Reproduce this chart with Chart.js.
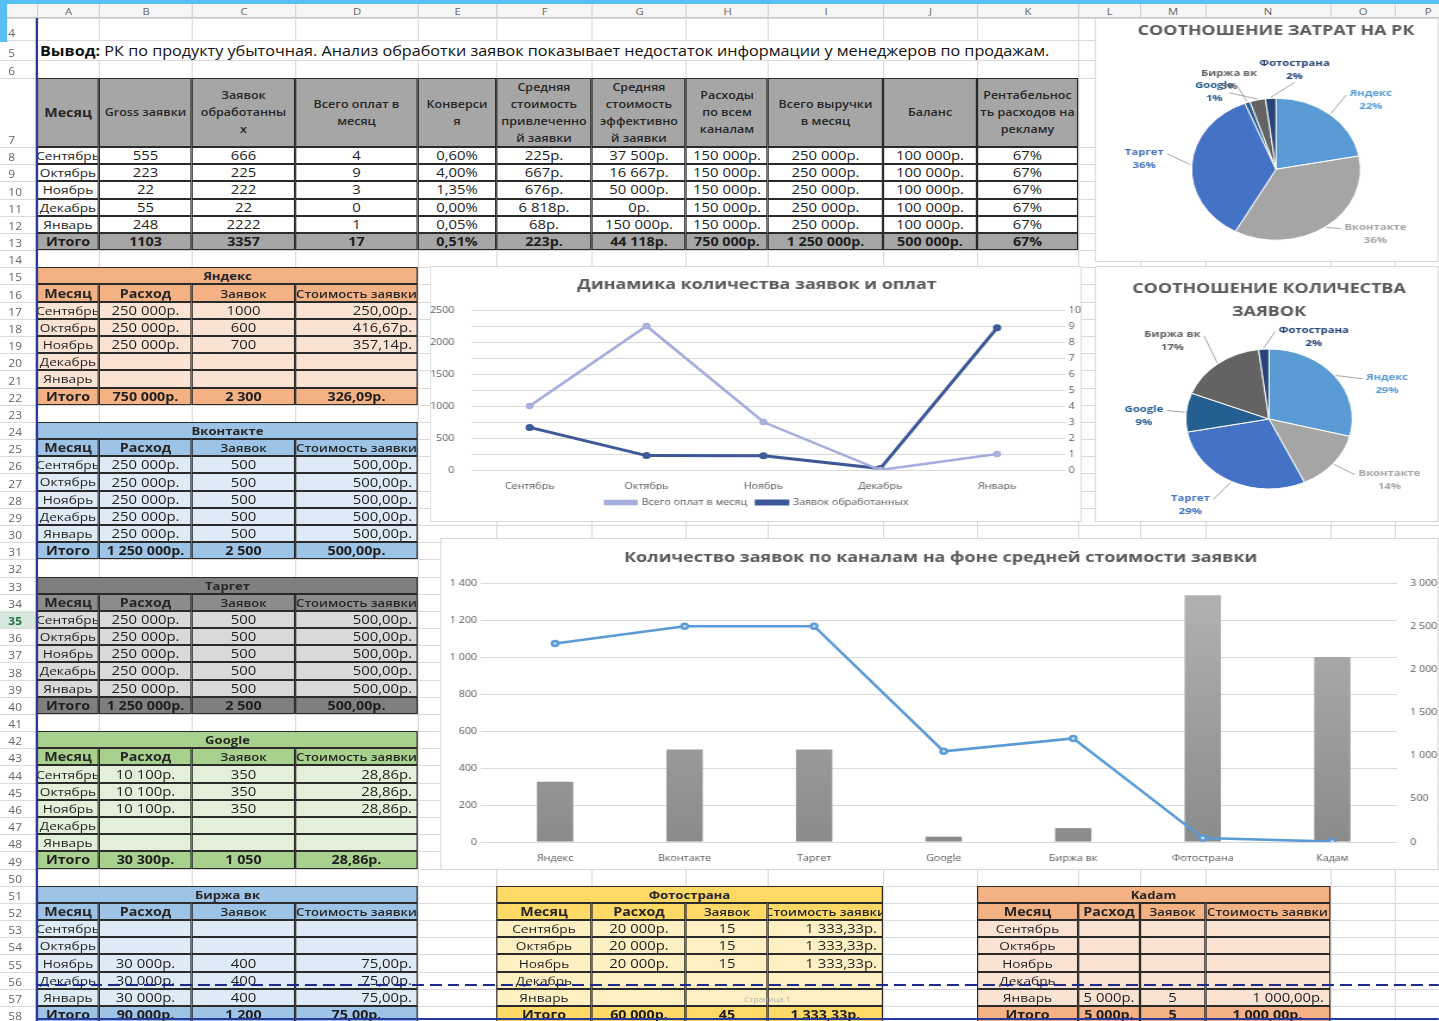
<!DOCTYPE html>
<html lang="ru">
<head>
<meta charset="utf-8">
<title>Анализ рекламной кампании</title>
<script src="https://cdn.jsdelivr.net/npm/chart.js@4.4.1/dist/chart.umd.min.js"></script>
<style>
  html, body { margin: 0; padding: 0; background: #fff; overflow: hidden; }
  body { width: 1439px; height: 1021px; position: relative; font-family: "Open Sans", sans-serif; }
  #sheet { position: absolute; left: 0; top: 0; height: 1021px; transform-origin: 0 0; }
  .c { position: absolute; box-sizing: border-box; display: flex; align-items: center; justify-content: center;
       overflow: hidden; white-space: nowrap; color: #1e1e1e; }
  .chartbox { position: absolute; background: #fff; border: 1px solid #d9d9d9; box-sizing: border-box; }
  .chartbox canvas { position: absolute; left: 0; top: 0; }
</style>
</head>
<body>
<div id="sheet"></div>
<script>
// ---- data ----
const months = ['Сентябрь', 'Октябрь', 'Ноябрь', 'Декабрь', 'Январь'];
const grossLeads = ['555', '223', '22', '55', '248'];
const processedLeads = [666, 225, 222, 22, 2222];
const paymentsPerMonth = [4, 9, 3, 0, 1];
const conversionRate = ['0,60%', '4,00%', '1,35%', '0,00%', '0,05%'];
const avgLeadCost = ['225р.', '667р.', '676р.', '6 818р.', '68р.'];
const avgPaidLeadCost = ['37 500р.', '16 667р.', '50 000р.', '0р.', '150 000р.'];
const spendAllChannels = ['150 000р.', '150 000р.', '150 000р.', '150 000р.', '150 000р.'];
const revenuePerMonth = ['250 000р.', '250 000р.', '250 000р.', '250 000р.', '250 000р.'];
const balancePerMonth = ['100 000р.', '100 000р.', '100 000р.', '100 000р.', '100 000р.'];
const adReturn = ['67%', '67%', '67%', '67%', '67%'];
const summaryTotals = ['Итого', '1103', '3357', '17', '0,51%', '223р.', '44 118р.', '750 000р.', '1 250 000р.', '500 000р.', '67%'];

const yandexSpend = ['250 000р.', '250 000р.', '250 000р.', '', ''];
const yandexLeads = ['1000', '600', '700', '', ''];
const yandexCost = ['250,00р.', '416,67р.', '357,14р.', '', ''];
const yandexTotal = ['750 000р.', '2 300', '326,09р.'];
const vkSpend = ['250 000р.', '250 000р.', '250 000р.', '250 000р.', '250 000р.'];
const vkLeads = ['500', '500', '500', '500', '500'];
const vkCost = ['500,00р.', '500,00р.', '500,00р.', '500,00р.', '500,00р.'];
const vkTotal = ['1 250 000р.', '2 500', '500,00р.'];
const targetSpend = ['250 000р.', '250 000р.', '250 000р.', '250 000р.', '250 000р.'];
const targetLeads = ['500', '500', '500', '500', '500'];
const targetCost = ['500,00р.', '500,00р.', '500,00р.', '500,00р.', '500,00р.'];
const targetTotal = ['1 250 000р.', '2 500', '500,00р.'];
const googleSpend = ['10 100р.', '10 100р.', '10 100р.', '', ''];
const googleLeads = ['350', '350', '350', '', ''];
const googleCost = ['28,86р.', '28,86р.', '28,86р.', '', ''];
const googleTotal = ['30 300р.', '1 050', '28,86р.'];
const vkExSpend = ['', '', '30 000р.', '30 000р.', '30 000р.'];
const vkExLeads = ['', '', '400', '400', '400'];
const vkExCost = ['', '', '75,00р.', '75,00р.', '75,00р.'];
const vkExTotal = ['90 000р.', '1 200', '75,00р.'];
const fotoSpend = ['20 000р.', '20 000р.', '20 000р.', '', ''];
const fotoLeads = ['15', '15', '15', '', ''];
const fotoCost = ['1 333,33р.', '1 333,33р.', '1 333,33р.', '', ''];
const fotoTotal = ['60 000р.', '45', '1 333,33р.'];
const kadamSpend = ['', '', '', '', '5 000р.'];
const kadamLeads = ['', '', '', '', '5'];
const kadamCost = ['', '', '', '', '1 000,00р.'];
const kadamTotal = ['5 000р.', '5', '1 000,00р.'];

const channels = ['Яндекс', 'Вконтакте', 'Таргет', 'Google', 'Биржа вк', 'Фотострана', 'Кадам'];
const channelLeadCost = [326.09, 500, 500, 28.86, 75, 1333.33, 1000];
const channelLeads = [2300, 2500, 2500, 1050, 1200, 45, 5];
const pieChannels = ['Яндекс', 'Вконтакте', 'Таргет', 'Google', 'Биржа вк', 'Фотострана'];
const spendShare = [22, 36, 36, 1, 3, 2];
const leadsShare = [29, 14, 29, 9, 17, 2];

// ---- sheet geometry (screen px; the sheet is drawn narrower and stretched) ----
const S = 1.19;
const F = '"Open Sans", sans-serif';
const sheet = document.getElementById('sheet');
sheet.style.width = (1439 / S) + 'px';
sheet.style.transform = 'scaleX(' + S + ')';

const colX = [0, 37, 99, 192, 295, 418, 496, 592, 686, 768, 883, 977, 1078, 1140, 1205, 1330, 1395, 1460];
const colNames = ['', 'A', 'B', 'C', 'D', 'E', 'F', 'G', 'H', 'I', 'J', 'K', 'L', 'M', 'N', 'O', 'P'];
function rowTop(r) {
  if (r <= 4) return 18;
  if (r === 5) return 40;
  if (r === 6) return 60;
  if (r === 7) return 78;
  return 147 + (r - 8) * 17.18;
}

function box(x1, y1, x2, y2, css, html) {
  const d = document.createElement('div');
  d.className = 'c';
  d.style.left = (x1 / S) + 'px';
  d.style.top = y1 + 'px';
  d.style.width = ((x2 - x1) / S) + 'px';
  d.style.height = (y2 - y1) + 'px';
  Object.assign(d.style, css || {});
  if (html !== undefined) d.innerHTML = html;
  sheet.appendChild(d);
  return d;
}

const B = '1px solid #2a2a2a';
function cell(c1, c2, r, html, css) {
  return box(colX[c1], rowTop(r), colX[c2 + 1], rowTop(r + 1), Object.assign({ border: B, fontSize: '12.5px' }, css), html);
}

// grid
for (let r = 4; r <= 59; r++) box(0, rowTop(r), 1460, rowTop(r) + 1, { background: '#dadada' });
for (let i = 1; i < colX.length; i++) box(colX[i], 4, colX[i] + 1, 1021, { background: '#dadada' });
box(0, 4, 1460, 18, { background: '#f6f6f6', borderBottom: '1px solid #c6c6c6' });
for (let i = 1; i < colNames.length; i++) {
  box(colX[i], 4, colX[i + 1], 18, { fontSize: '9.5px', color: '#666', borderLeft: '1px solid #d0d0d0' }, colNames[i]);
}
for (let r = 4; r <= 58; r++) {
  const sel = r === 35;
  box(0, rowTop(r), 37, rowTop(r + 1), {
    fontSize: '10px', color: sel ? '#217346' : '#666', alignItems: 'flex-end', justifyContent: 'flex-start',
    paddingLeft: '7px', background: sel ? '#d9e8de' : 'transparent', fontWeight: sel ? '700' : '400'
  }, String(r));
}
box(0, 0, 1460, 4, { background: '#56c0f4' });
box(0, 0, 7, 42, { background: '#56c0f4' });

// conclusion line
box(38, 41, 1077, 60, { background: '#fff' });
box(40, 40, 1077, 60, { justifyContent: 'flex-start', fontSize: '13.6px', color: '#111' },
  '<b>Вывод:</b>&nbsp;РК по продукту убыточная. Анализ обработки заявок показывает недостаток информации у менеджеров по продажам.');

// summary table
const summaryHead = ['Месяц', 'Gross заявки', 'Заявок<br>обработанны<br>х', 'Всего оплат в<br>месяц', 'Конверси<br>я',
  'Средняя<br>стоимость<br>привлеченно<br>й заявки', 'Средняя<br>стоимость<br>эффективно<br>й заявки',
  'Расходы<br>по всем<br>каналам', 'Всего выручки<br>в месяц', 'Баланс', 'Рентабельнос<br>ть расходов на<br>рекламу'];
summaryHead.forEach((h, i) => cell(i + 1, i + 1, 7, h, {
  background: '#a6a6a6', fontSize: i === 0 ? '12px' : '10.5px', fontWeight: i === 0 ? '700' : '600',
  lineHeight: '17px', textAlign: 'center', color: '#262626'
}));
months.forEach((m, k) => {
  const vals = [m, grossLeads[k], processedLeads[k], paymentsPerMonth[k], conversionRate[k], avgLeadCost[k],
    avgPaidLeadCost[k], spendAllChannels[k], revenuePerMonth[k], balancePerMonth[k], adReturn[k]];
  vals.forEach((v, i) => cell(i + 1, i + 1, 8 + k, v, { background: '#fff', fontSize: i === 0 ? '11.5px' : '12.5px' }));
});
summaryTotals.forEach((v, i) => cell(i + 1, i + 1, 13, v, { background: '#a6a6a6', fontWeight: '700', fontSize: '12px' }));

// channel tables
function channelTable(c1, r0, title, pal, spend, leads, cost, total) {
  cell(c1, c1 + 3, r0, title, { background: pal[0], fontWeight: '700', fontSize: '11px', color: '#262626' });
  ['Месяц', 'Расход', 'Заявок', 'Стоимость заявки'].forEach((h, i) =>
    cell(c1 + i, c1 + i, r0 + 1, h, { background: pal[1], fontWeight: i < 2 ? '700' : '600', fontSize: i < 2 ? '12px' : '11px', color: '#262626' }));
  months.forEach((m, k) => {
    const r = r0 + 2 + k;
    cell(c1, c1, r, m, { background: pal[2], fontSize: '11.5px' });
    cell(c1 + 1, c1 + 1, r, spend[k], { background: pal[2] });
    cell(c1 + 2, c1 + 2, r, leads[k], { background: pal[2] });
    cell(c1 + 3, c1 + 3, r, cost[k], { background: pal[2], justifyContent: 'flex-end', paddingRight: '4px' });
  });
  const rt = r0 + 7;
  cell(c1, c1, rt, 'Итого', { background: pal[3], fontWeight: '700', fontSize: '12px' });
  total.forEach((v, i) => cell(c1 + 1 + i, c1 + 1 + i, rt, v, { background: pal[3], fontWeight: '700', fontSize: '12px' }));
}
const orangePal = ['#f4b183', '#f4b183', '#fbe3d3', '#f4b183'];
const bluePal = ['#9dc3e6', '#9dc3e6', '#deebf7', '#9dc3e6'];
const grayPal = ['#7f7f7f', '#8c8c8c', '#d9d9d9', '#7f7f7f'];
const greenPal = ['#a9d18e', '#a9d18e', '#e2f0d9', '#a9d18e'];
const yellowPal = ['#ffd966', '#ffd966', '#fff0c4', '#ffd966'];
channelTable(1, 15, 'Яндекс', orangePal, yandexSpend, yandexLeads, yandexCost, yandexTotal);
channelTable(1, 24, 'Вконтакте', bluePal, vkSpend, vkLeads, vkCost, vkTotal);
channelTable(1, 33, 'Таргет', grayPal, targetSpend, targetLeads, targetCost, targetTotal);
channelTable(1, 42, 'Google', greenPal, googleSpend, googleLeads, googleCost, googleTotal);
channelTable(1, 51, 'Биржа вк', bluePal, vkExSpend, vkExLeads, vkExCost, vkExTotal);
channelTable(6, 51, 'Фотострана', yellowPal, fotoSpend, fotoLeads, fotoCost, fotoTotal);
channelTable(11, 51, 'Kadam', orangePal, kadamSpend, kadamLeads, kadamCost, kadamTotal);
box(735, 994, 800, 1004, { fontSize: '7px', color: '#b0b0b0' }, 'Страница 1');

// page-break marks
box(36, 18, 38, 1021, { background: '#2b3a9a' });
box(37, 984, 1439, 986, { background: 'repeating-linear-gradient(to right, #1d2c8c 0 10px, transparent 10px 15px)' });
box(37, 1018, 1439, 1020, { background: '#2b3a9a' });

// ---- charts ----
Chart.defaults.font.family = F;
Chart.defaults.color = '#595959';

function chartBox(x1, y1, x2, y2) {
  const w = Math.round((x2 - x1) / S), h = Math.round(y2 - y1);
  const d = document.createElement('div');
  d.className = 'chartbox';
  d.style.left = (x1 / S) + 'px';
  d.style.top = y1 + 'px';
  d.style.width = w + 'px';
  d.style.height = h + 'px';
  const cv = document.createElement('canvas');
  cv.width = w; cv.height = h;
  cv.style.width = w + 'px'; cv.style.height = h + 'px';
  d.appendChild(cv);
  sheet.appendChild(d);
  return cv;
}

const tickFont = { family: F, size: 9 };
const plain = v => String(v);
const spaced = v => String(v).replace(/\B(?=(\d{3})+(?!\d))/g, ' ');

// line chart: leads processed vs payments
new Chart(chartBox(430, 266, 1082, 522), {
  type: 'line',
  data: {
    labels: months,
    datasets: [
      { label: 'Всего оплат в месяц', data: paymentsPerMonth, yAxisID: 'y1', borderColor: '#a4addb', backgroundColor: '#a4addb',
        borderWidth: 2.5, pointRadius: 2, pointBackgroundColor: '#c7cdea', pointBorderColor: '#a4addb' },
      { label: 'Заявок обработанных', data: processedLeads, yAxisID: 'y', borderColor: '#3c5897', backgroundColor: '#3c5897',
        borderWidth: 3, pointRadius: 2, pointBackgroundColor: '#6b80b5', pointBorderColor: '#3c5897' }
    ]
  },
  options: {
    responsive: false, animation: false,
    layout: { padding: { bottom: 6 } },
    plugins: {
      title: { display: true, text: 'Динамика количества заявок и оплат', color: '#595959',
        font: { family: F, size: 15, weight: 'bold' }, padding: { top: 9, bottom: 16 } },
      legend: { position: 'bottom', labels: { color: '#595959', font: tickFont, boxWidth: 26, boxHeight: 3, padding: 8 } },
      tooltip: { enabled: false }
    },
    scales: {
      x: { offset: true, grid: { display: false }, border: { display: false }, ticks: { font: tickFont, color: '#595959' },
        afterFit: s => { s.height = 20; } },
      y: { position: 'left', min: 0, max: 2500, grid: { display: false }, border: { display: false },
        ticks: { stepSize: 500, font: tickFont, color: '#595959', callback: plain, padding: 6 }, afterFit: s => { s.width = 34; } },
      y1: { position: 'right', min: 0, max: 10, grid: { color: '#d9d9d9' }, border: { display: false },
        ticks: { stepSize: 1, font: tickFont, color: '#595959', callback: plain }, afterFit: s => { s.width = 23; } }
    }
  }
});

// combo chart: cost per lead (bars) and leads by channel (line)
new Chart(chartBox(440, 538, 1439, 870), {
  type: 'bar',
  data: {
    labels: channels,
    datasets: [
      { type: 'line', label: 'Заявок', data: channelLeads, yAxisID: 'y1', borderColor: '#5b9bd5', borderWidth: 2.5,
        pointRadius: 2.5, pointBackgroundColor: '#d8e7f5', pointBorderColor: '#5b9bd5', order: 0 },
      { type: 'bar', label: 'Стоимость заявки', data: channelLeadCost, yAxisID: 'y', order: 1,
        barPercentage: 0.28, categoryPercentage: 1,
        backgroundColor: c => {
          const ca = c.chart.chartArea;
          if (!ca) return '#9d9d9d';
          const g = c.chart.ctx.createLinearGradient(0, ca.top, 0, ca.bottom);
          g.addColorStop(0, '#b3b3b3');
          g.addColorStop(1, '#8b8b8b');
          return g;
        } }
    ]
  },
  options: {
    responsive: false, animation: false,
    layout: { padding: { bottom: 7 } },
    plugins: {
      title: { display: true, text: 'Количество заявок по каналам на фоне средней стоимости заявки', color: '#595959',
        font: { family: F, size: 15, weight: 'bold' }, padding: { top: 10, bottom: 16 } },
      legend: { display: false },
      tooltip: { enabled: false }
    },
    scales: {
      x: { grid: { display: false }, border: { display: false }, ticks: { font: tickFont, color: '#595959' },
        afterFit: s => { s.height = 22; } },
      y: { position: 'left', min: 0, max: 1400, grid: { color: '#d9d9d9' }, border: { display: false },
        ticks: { stepSize: 200, font: tickFont, color: '#595959', callback: spaced }, afterFit: s => { s.width = 41; } },
      y1: { position: 'right', min: 0, max: 3000, grid: { display: false }, border: { display: false },
        ticks: { stepSize: 500, font: tickFont, color: '#595959', callback: spaced }, afterFit: s => { s.width = 36; } }
    }
  }
});

// pies
const pieColors = ['#5b9bd5', '#a5a5a5', '#4472c4', '#255e91', '#636363', '#264478'];
const pieLabels = {
  id: 'pieLabels',
  afterDatasetsDraw(chart, args, opts) {
    const ctx = chart.ctx;
    const ds = chart.data.datasets[0];
    chart.getDatasetMeta(0).data.forEach((arc, i) => {
      const p = arc.getProps(['x', 'y', 'startAngle', 'endAngle', 'outerRadius'], true);
      const mid = (p.startAngle + p.endAngle) / 2;
      const cx = Math.cos(mid), cy = Math.sin(mid);
      const n = opts.nudge[i] || [0, 0];
      const lx = p.x + cx * p.outerRadius * 1.45 + n[0];
      const ly = p.y + cy * p.outerRadius * 1.45 + n[1];
      const name = chart.data.labels[i];
      const pct = ds.data[i] + '%';
      ctx.save();
      ctx.font = 'bold 9.5px ' + F;
      const w = Math.max(ctx.measureText(name).width, ctx.measureText(pct).width);
      const ex = p.x + cx * (p.outerRadius + 1), ey = p.y + cy * (p.outerRadius + 1);
      let tx, ty;
      if (Math.abs(lx - ex) > w / 2 + 4) { tx = lx + (ex < lx ? -1 : 1) * (w / 2 + 3); ty = ly - 5; }
      else { tx = lx; ty = ly + (ey < ly ? -13 : 13); }
      ctx.strokeStyle = '#a6a6a6';
      ctx.lineWidth = 1;
      ctx.beginPath(); ctx.moveTo(ex, ey); ctx.lineTo(tx, ty); ctx.stroke();
      ctx.fillStyle = pieColors[i];
      ctx.textAlign = 'center';
      ctx.textBaseline = 'middle';
      ctx.fillText(name, lx, ly - 6.5);
      ctx.fillText(pct, lx, ly + 6.5);
      ctx.restore();
    });
  }
};

function pie(cv, values, title, titlePad, pad, radius, nudge) {
  return new Chart(cv, {
    type: 'pie',
    data: { labels: pieChannels, datasets: [{ data: values, backgroundColor: pieColors, borderColor: '#fff', borderWidth: 1, radius: radius }] },
    options: {
      responsive: false, animation: false,
      layout: { padding: pad },
      plugins: {
        title: { display: true, text: title, color: '#595959', font: { family: F, size: 15, weight: 'bold', lineHeight: 1.5 }, padding: titlePad },
        legend: { display: false },
        tooltip: { enabled: false },
        pieLabels: { nudge: nudge }
      }
    },
    plugins: [pieLabels]
  });
}

pie(chartBox(1095, 18, 1439, 262), spendShare, 'СООТНОШЕНИЕ ЗАТРАТ НА РК',
  { top: 0, bottom: 34 }, { left: 13.6, right: 0, top: 0, bottom: 0 }, 71,
  [[14, 10], [23, -19], [-8, -4], [-17, 19], [-17, 11], [22, 3]]);

pie(chartBox(1095, 266, 1439, 522), leadsShare, ['СООТНОШЕНИЕ КОЛИЧЕСТВА', 'ЗАЯВОК'],
  { top: 10.75, bottom: 0 }, { left: 1.8, right: 0, top: 0, bottom: 7.75 }, 70,
  [[19, 27], [23, -4], [-20, -5], [-4, 6], [-19, 2], [44, 19]]);
</script>
</body>
</html>
